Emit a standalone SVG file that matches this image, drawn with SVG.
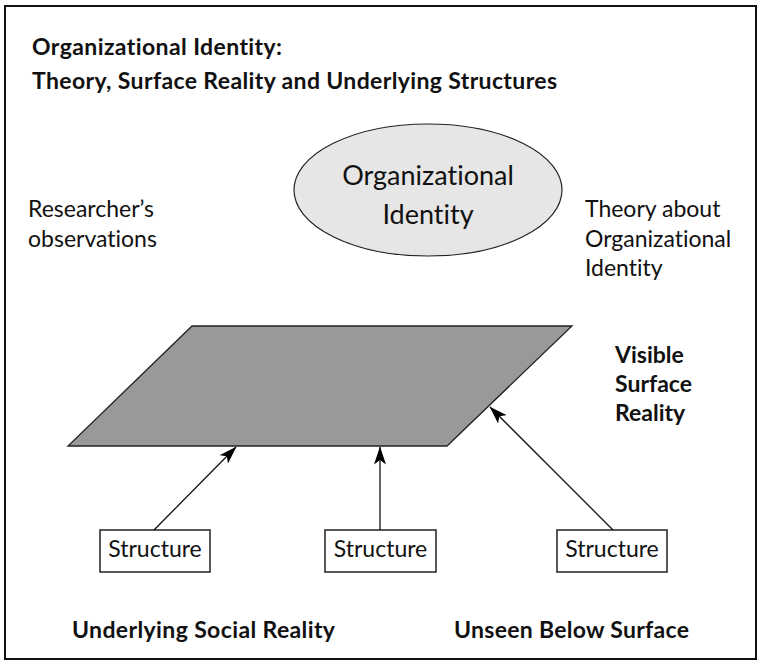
<svg xmlns="http://www.w3.org/2000/svg" width="762" height="664" viewBox="0 0 762 664">
<defs>
<style>
text{font-family:Lato,"Open Sans","Liberation Sans",sans-serif;fill:#111;font-variant-ligatures:none}
.t{font-weight:bold;font-size:23px}
.b{font-weight:bold;font-size:23px}
.n{font-size:23px}
.s{font-size:23px;text-anchor:middle}
.e{font-size:27px;text-anchor:middle}
.box{fill:#fff;stroke:#222;stroke-width:1.5}
.conn{stroke:#111;stroke-width:1.3;fill:none;marker-end:url(#ah)}
</style>
<marker id="ah" viewBox="0 0 18 12" refX="17.5" refY="6" markerWidth="18" markerHeight="12" markerUnits="userSpaceOnUse" orient="auto">
<path d="M0,0 L18,6 L0,12 L4.5,6 z" fill="#000"/>
</marker>
</defs>
<rect x="5" y="6" width="751" height="653" fill="#fff" stroke="#111" stroke-width="2"/>
<g id="title">
<text class="t" x="32" y="55" textLength="250">Organizational Identity:</text>
<text class="t" x="32" y="89" textLength="525">Theory, Surface Reality and Underlying Structures</text>
</g>
<g id="identity">
<ellipse cx="428" cy="190" rx="134" ry="66" fill="#e6e6e6" stroke="#222" stroke-width="1.2"/>
<text class="e" x="428" y="185">Organizational</text>
<text class="e" x="428" y="224">Identity</text>
</g>
<g id="observations">
<text class="n" x="28" y="217">Researcher’s</text>
<text class="n" x="28" y="247">observations</text>
</g>
<g id="theory">
<text class="n" x="585" y="217">Theory about</text>
<text class="n" x="585" y="247">Organizational</text>
<text class="n" x="585" y="276">Identity</text>
</g>
<g id="surface">
<polygon points="192,326 572,326 447,446 68,446" fill="#999" stroke="#222" stroke-width="1.3"/>
</g>
<g id="surface-label">
<text class="b" x="615" y="363">Visible</text>
<text class="b" x="615" y="392">Surface</text>
<text class="b" x="615" y="421">Reality</text>
</g>
<g id="structure1">
<rect class="box" x="100" y="530" width="110" height="42"/>
<text class="s" x="155" y="557">Structure</text>
</g>
<g id="structure2">
<rect class="box" x="325" y="530" width="111" height="42"/>
<text class="s" x="380.5" y="557">Structure</text>
</g>
<g id="structure3">
<rect class="box" x="557" y="530" width="110" height="42"/>
<text class="s" x="612" y="557">Structure</text>
</g>
<g id="connectors">
<line class="conn" x1="154" y1="530" x2="236" y2="447"/>
<line class="conn" x1="380" y1="530" x2="380" y2="447"/>
<line class="conn" x1="613" y1="530" x2="490" y2="407"/>
</g>
<g id="bottom-labels">
<text class="b" x="72" y="638" textLength="263">Underlying Social Reality</text>
<text class="b" x="454" y="638" textLength="235">Unseen Below Surface</text>
</g>
</svg>
